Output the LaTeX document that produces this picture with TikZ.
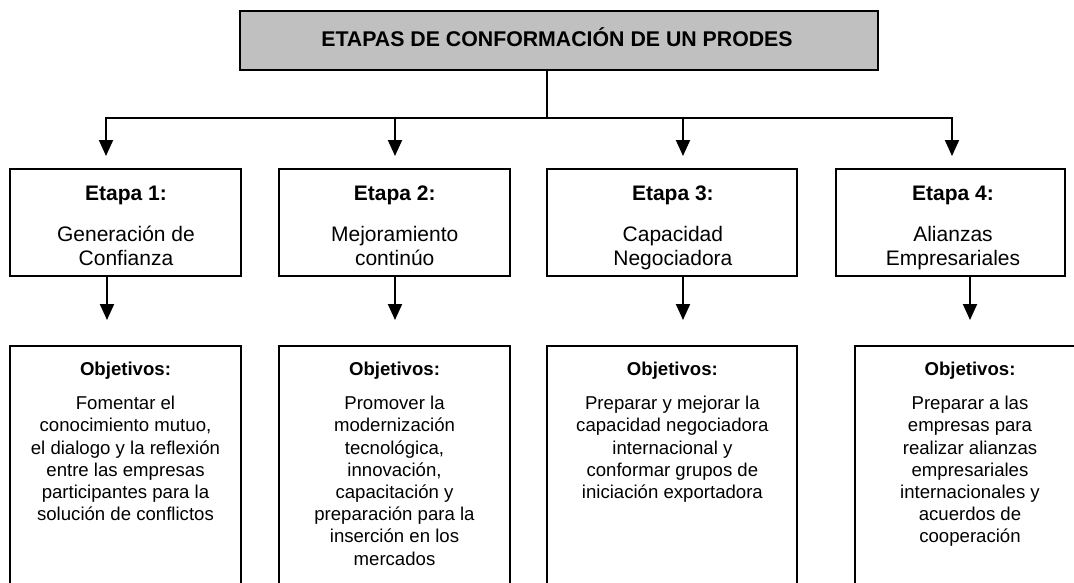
\documentclass[tikz,border=0pt]{standalone}
\usepackage{fontspec}
\setmainfont{Liberation Sans}
\usetikzlibrary{arrows.meta}
\newcommand{\stagetxt}[1]{\parbox[t]{225pt}{\centering\fontsize{21}{23.5}\selectfont #1}}
\newcommand{\objtxt}[1]{\parbox[t]{225pt}{\centering\fontsize{18.6}{22.2}\selectfont #1}}
\begin{document}
\begin{tikzpicture}[x=1pt,y=-1pt,
  frame/.style={draw=black, line width=2pt, inner sep=0pt, rectangle},
  conn/.style={draw=black, line width=2pt},
  arr/.style={conn, -{Triangle[length=16pt,width=14pt]}},
  lbl/.style={inner sep=0pt, anchor=base, font=\bfseries\fontsize{21}{24}\selectfont},
  olbl/.style={inner sep=0pt, anchor=base, font=\bfseries\fontsize{18.6}{22}\selectfont},
  body/.style={inner sep=0pt, anchor=base}]
\useasboundingbox (0,0) rectangle (1074,582);
\clip (0,0) rectangle (1074,582);

% title
\node[frame, fill={rgb,255:red,192;green,192;blue,192}, minimum width=638pt, minimum height=59pt] (title) at (559,40) {};
\node[lbl, font=\bfseries\fontsize{21.3}{24}\selectfont] (titletxt) at (557,46.7) {ETAPAS DE CONFORMACIÓN DE UN PRODES};

% stage boxes
\node[frame, minimum width=231pt, minimum height=107pt] (s1) at (125.5,222.5) {};
\node[frame, minimum width=231pt, minimum height=107pt] (s2) at (394.5,222.5) {};
\node[frame, minimum width=250pt, minimum height=107pt] (s3) at (672,222.5) {};
\node[frame, minimum width=229pt, minimum height=107pt] (s4) at (950.5,222.5) {};

\node[lbl] (e1) at (126,200.3) {Etapa 1:};
\node[lbl] (e2) at (394.7,200.3) {Etapa 2:};
\node[lbl] (e3) at (672.9,200.3) {Etapa 3:};
\node[lbl] (e4) at (953,200.3) {Etapa 4:};
\node[body] (t1) at (126,241.7) {\stagetxt{Generación de\\Confianza}};
\node[body] (t2) at (394.7,241.7) {\stagetxt{Mejoramiento\\continúo}};
\node[body] (t3) at (672.9,241.7) {\stagetxt{Capacidad\\Negociadora}};
\node[body] (t4) at (953,241.7) {\stagetxt{Alianzas\\Empresariales}};

% objective boxes
\node[frame, minimum width=231pt, minimum height=274pt] (o1) at (125.5,483) {};
\node[frame, minimum width=231pt, minimum height=274pt] (o2) at (394.5,483) {};
\node[frame, minimum width=250pt, minimum height=274pt] (o3) at (672,483) {};
\node[frame, minimum width=230pt, minimum height=274pt] (o4) at (970,483) {};

\node[olbl] (ob1) at (125.5,375) {Objetivos:};
\node[olbl] (ob2) at (394.5,375) {Objetivos:};
\node[olbl] (ob3) at (672.4,375) {Objetivos:};
\node[olbl] (ob4) at (970,375) {Objetivos:};
\node[body] (b1) at (125.5,409.7) {\objtxt{Fomentar el\\conocimiento mutuo,\\el dialogo y la reflexión\\entre las empresas\\participantes para la\\solución de conflictos}};
\node[body] (b2) at (394.5,409.7) {\objtxt{Promover la\\modernización\\tecnológica,\\innovación,\\capacitación y\\preparación para la\\inserción en los\\mercados}};
\node[body] (b3) at (672.4,409.7) {\objtxt{Preparar y mejorar la\\capacidad negociadora\\internacional y\\conformar grupos de\\iniciación exportadora}};
\node[body] (b4) at (970,409.7) {\objtxt{Preparar a las\\empresas para\\realizar alianzas\\empresariales\\internacionales y\\acuerdos de\\cooperación}};

% connectors
\coordinate (trunk) at (547,118);
\coordinate (h1) at (106,118);
\coordinate (h2) at (395,118);
\coordinate (h3) at (683,118);
\coordinate (h4) at (952,118);
\draw[conn] (title.south -| trunk) -- (trunk);
\draw[conn, line cap=rect] (h1) -- (h4);
\draw[arr, shorten >=12pt] (h1) -- (s1.north -| h1);
\draw[arr, shorten >=12pt] (h2) -- (s2.north -| h2);
\draw[arr, shorten >=12pt] (h3) -- (s3.north -| h3);
\draw[arr, shorten >=12pt] (h4) -- (s4.north -| h4);

\coordinate (v1) at (107,0);
\coordinate (v2) at (395,0);
\coordinate (v3) at (683,0);
\coordinate (v4) at (970,0);
\draw[arr, shorten >=25pt] (s1.south -| v1) -- (o1.north -| v1);
\draw[arr, shorten >=25pt] (s2.south -| v2) -- (o2.north -| v2);
\draw[arr, shorten >=25pt] (s3.south -| v3) -- (o3.north -| v3);
\draw[arr, shorten >=25pt] (s4.south -| v4) -- (o4.north -| v4);
\end{tikzpicture}
\end{document}
